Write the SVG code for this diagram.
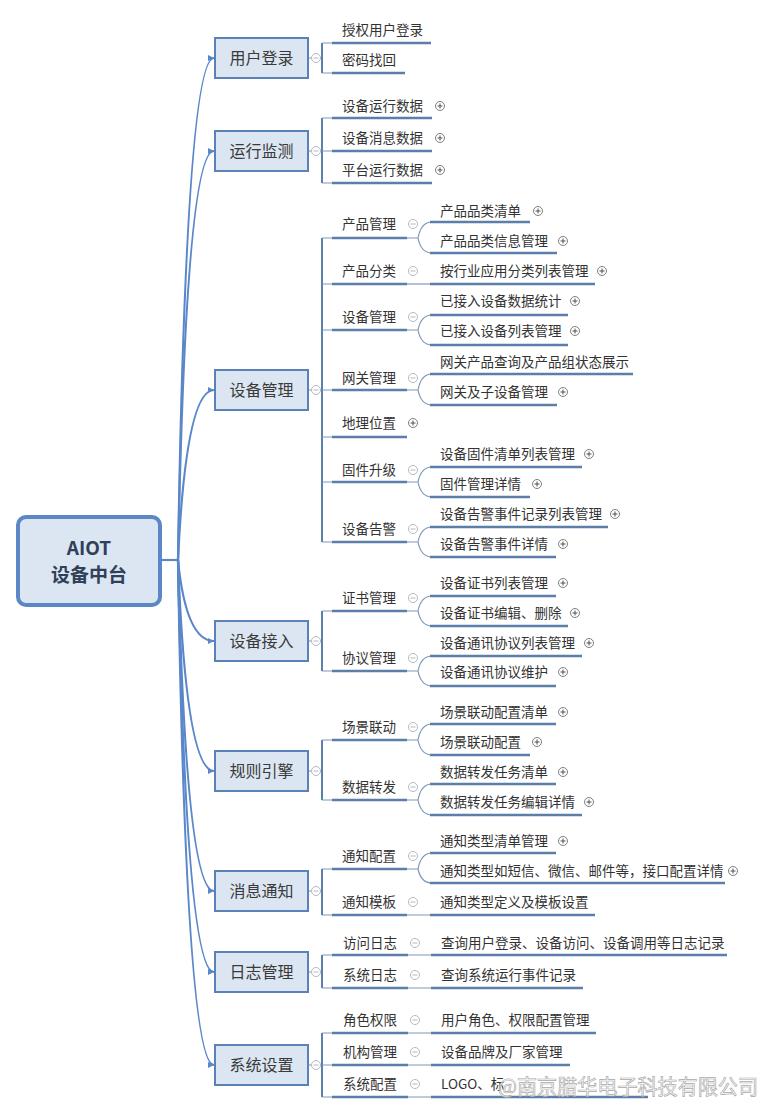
<svg xmlns="http://www.w3.org/2000/svg" xmlns:xlink="http://www.w3.org/1999/xlink" width="773" height="1114" viewBox="0 0 773 1114">
<style>
text{font-family:"Noto Sans CJK SC","Microsoft YaHei",sans-serif;fill:#333}
.root{fill:#dce6f2;stroke:#5b87c6;stroke-width:4}
.rt{font-size:19px;font-weight:bold;fill:#2f4058;text-anchor:middle}
.l1{fill:#dce6f2;stroke:#5a82b8;stroke-width:2}
.t1{font-size:16px;text-anchor:middle;fill:#3a3a3a}
.t2{font-size:13.5px}
.ul{fill:none;stroke:#5b7fa9;stroke-width:2.6}
.cv{fill:none;stroke:#5a87c9;stroke-width:2.2}
.br{fill:none;stroke:#5b7fa9;stroke-width:2}
.th{fill:none;stroke:#7f98b8;stroke-width:1.2}
.wm{font-size:21px;fill:#fff;fill-opacity:0.7;stroke:#a8a8a8;stroke-width:0.7}
</style>
<defs>
<marker id="ah" markerUnits="userSpaceOnUse" markerWidth="7" markerHeight="7" refX="6" refY="3" orient="auto"><path d="M0,0L6,3L0,6z" fill="#5a87c9"/></marker>
<g id="mi"><circle r="4.5" fill="#fff" stroke="#b3bac4" stroke-width="1"/><path d="M-2.5,0H2.5" stroke="#b3bac4" stroke-width="1"/></g>
<g id="pl"><circle r="4.5" fill="#fff" stroke="#707070" stroke-width="0.9"/><path d="M-2.5,0H2.5M0,-2.5V2.5" stroke="#505050" stroke-width="1"/></g>
</defs>
<rect width="773" height="1114" fill="#fff"/>

<g id="connectors">
<path class="cv" d="M160,560H178"/>
<path class="cv" marker-end="url(#ah)" d="M178,560Q186,58 214,58"/>
<path class="cv" marker-end="url(#ah)" d="M178,560Q186,151 214,151"/>
<path class="cv" marker-end="url(#ah)" d="M178,560Q186,390 214,390"/>
<path class="cv" marker-end="url(#ah)" d="M178,560Q186,641 214,641"/>
<path class="cv" marker-end="url(#ah)" d="M178,560Q186,771 214,771"/>
<path class="cv" marker-end="url(#ah)" d="M178,560Q186,891 214,891"/>
<path class="cv" marker-end="url(#ah)" d="M178,560Q186,972 214,972"/>
<path class="cv" marker-end="url(#ah)" d="M178,560Q186,1065 214,1065"/>
<path class="th" d="M308,58H322M308,151H322M308,390H322M308,641H322M308,771H322M308,891H322M308,972H322M308,1065H322"/>
<path class="br" d="M322,43V73M322,118V183M322,238V542M322,611V671M322,740V800M322,869V915M322,955V988M322,1033V1097"/>
<path class="th" d="M322,43H332M322,73H332M322,118H332M322,151H332M322,183H332M322,238H332M322,284H332M322,330H332M322,390H332M322,437H332M322,482H332M322,542H332M322,611H332M322,671H332M322,740H332M322,800H332M322,869H332M322,915H332M322,955H332M322,988H332M322,1033H332M322,1065H332M322,1097H332"/>
<path class="th" d="M407,238H418Q421,222 432,222M418,238Q421,253 432,253"/>
<path class="th" d="M407,284H432"/>
<path class="th" d="M407,330H418Q421,315 432,315M418,330Q421,345 432,345"/>
<path class="th" d="M407,390H418Q421,374 432,374M418,390Q421,405 432,405"/>
<path class="th" d="M407,482H418Q421,467 432,467M418,482Q421,497 432,497"/>
<path class="th" d="M407,542H418Q421,527 432,527M418,542Q421,557 432,557"/>
<path class="th" d="M407,611H418Q421,596 432,596M418,611Q421,626 432,626"/>
<path class="th" d="M407,671H418Q421,656 432,656M418,671Q421,686 432,686"/>
<path class="th" d="M407,740H418Q421,724 432,724M418,740Q421,755 432,755"/>
<path class="th" d="M407,800H418Q421,784 432,784M418,800Q421,815 432,815"/>
<path class="th" d="M407,869H418Q421,853 432,853M418,869Q421,883 432,883"/>
<path class="th" d="M407,915H432M408,955H432M408,988H432M408,1033H432M408,1065H432M408,1097H432"/>
</g>

<g id="root"><rect class="root" x="18" y="517" width="142" height="88" rx="8"/><text class="rt" x="89" y="555">AIOT</text><text class="rt" x="89" y="582">设备中台</text></g>

<g id="n1"><rect class="l1" x="215" y="38" width="93" height="40"/><text class="t1" x="261.5" y="64">用户登录</text><use href="#mi" x="316" y="58"/></g>
<g id="n2"><rect class="l1" x="215" y="131" width="93" height="40"/><text class="t1" x="261.5" y="157">运行监测</text><use href="#mi" x="316" y="151"/></g>
<g id="n3"><rect class="l1" x="215" y="370" width="93" height="40"/><text class="t1" x="261.5" y="396">设备管理</text><use href="#mi" x="316" y="390"/></g>
<g id="n4"><rect class="l1" x="215" y="621" width="93" height="40"/><text class="t1" x="261.5" y="647">设备接入</text><use href="#mi" x="316" y="641"/></g>
<g id="n5"><rect class="l1" x="215" y="751" width="93" height="40"/><text class="t1" x="261.5" y="777">规则引擎</text><use href="#mi" x="316" y="771"/></g>
<g id="n6"><rect class="l1" x="215" y="871" width="93" height="40"/><text class="t1" x="261.5" y="897">消息通知</text><use href="#mi" x="316" y="891"/></g>
<g id="n7"><rect class="l1" x="215" y="952" width="93" height="40"/><text class="t1" x="261.5" y="978">日志管理</text><use href="#mi" x="316" y="972"/></g>
<g id="n8"><rect class="l1" x="215" y="1045" width="93" height="40"/><text class="t1" x="261.5" y="1071">系统设置</text><use href="#mi" x="316" y="1065"/></g>

<g id="n1-1"><text class="t2" x="342" y="35">授权用户登录</text><path class="ul" d="M332,43H431"/></g>
<g id="n1-2"><text class="t2" x="342" y="65">密码找回</text><path class="ul" d="M332,73H405"/></g>

<g id="n2-1"><text class="t2" x="342" y="111">设备运行数据</text><path class="ul" d="M332,118H432"/><use href="#pl" x="440" y="106"/></g>
<g id="n2-2"><text class="t2" x="342" y="143">设备消息数据</text><path class="ul" d="M332,151H432"/><use href="#pl" x="440" y="138"/></g>
<g id="n2-3"><text class="t2" x="342" y="175">平台运行数据</text><path class="ul" d="M332,183H432"/><use href="#pl" x="440" y="170"/></g>

<g id="n3-1"><text class="t2" x="342" y="229">产品管理</text><path class="ul" d="M332,238H407"/><use href="#mi" x="413" y="224"/></g>
<g id="n3-1-1"><text class="t2" x="440" y="216">产品品类清单</text><path class="ul" d="M430,222H530"/><use href="#pl" x="538" y="211"/></g>
<g id="n3-1-2"><text class="t2" x="440" y="246">产品品类信息管理</text><path class="ul" d="M430,253H557"/><use href="#pl" x="563" y="241"/></g>
<g id="n3-2"><text class="t2" x="342" y="276">产品分类</text><path class="ul" d="M332,284H407"/><use href="#mi" x="413" y="271"/></g>
<g id="n3-2-1"><text class="t2" x="440" y="276">按行业应用分类列表管理</text><path class="ul" d="M430,284H595"/><use href="#pl" x="602" y="271"/></g>
<g id="n3-3"><text class="t2" x="342" y="322">设备管理</text><path class="ul" d="M332,330H407"/><use href="#mi" x="413" y="317"/></g>
<g id="n3-3-1"><text class="t2" x="440" y="306">已接入设备数据统计</text><path class="ul" d="M430,315H568"/><use href="#pl" x="575" y="301"/></g>
<g id="n3-3-2"><text class="t2" x="440" y="336">已接入设备列表管理</text><path class="ul" d="M430,345H568"/><use href="#pl" x="575" y="331"/></g>
<g id="n3-4"><text class="t2" x="342" y="383">网关管理</text><path class="ul" d="M332,390H407"/><use href="#mi" x="413" y="378"/></g>
<g id="n3-4-1"><text class="t2" x="440" y="367">网关产品查询及产品组状态展示</text><path class="ul" d="M430,374H633"/></g>
<g id="n3-4-2"><text class="t2" x="440" y="397">网关及子设备管理</text><path class="ul" d="M430,405H557"/><use href="#pl" x="563" y="392"/></g>
<g id="n3-5"><text class="t2" x="342" y="428">地理位置</text><path class="ul" d="M332,437H407"/><use href="#pl" x="413" y="423"/></g>
<g id="n3-6"><text class="t2" x="342" y="475">固件升级</text><path class="ul" d="M332,482H407"/><use href="#mi" x="413" y="470"/></g>
<g id="n3-6-1"><text class="t2" x="440" y="459">设备固件清单列表管理</text><path class="ul" d="M430,467H582"/><use href="#pl" x="589" y="454"/></g>
<g id="n3-6-2"><text class="t2" x="440" y="489">固件管理详情</text><path class="ul" d="M430,497H530"/><use href="#pl" x="537" y="484"/></g>
<g id="n3-7"><text class="t2" x="342" y="534">设备告警</text><path class="ul" d="M332,542H407"/><use href="#mi" x="413" y="529"/></g>
<g id="n3-7-1"><text class="t2" x="440" y="519">设备告警事件记录列表管理</text><path class="ul" d="M430,527H608"/><use href="#pl" x="615" y="514"/></g>
<g id="n3-7-2"><text class="t2" x="440" y="549">设备告警事件详情</text><path class="ul" d="M430,557H556"/><use href="#pl" x="563" y="544"/></g>

<g id="n4-1"><text class="t2" x="342" y="603">证书管理</text><path class="ul" d="M332,611H407"/><use href="#mi" x="413" y="598"/></g>
<g id="n4-1-1"><text class="t2" x="440" y="588">设备证书列表管理</text><path class="ul" d="M430,596H556"/><use href="#pl" x="563" y="583"/></g>
<g id="n4-1-2"><text class="t2" x="440" y="618">设备证书编辑、删除</text><path class="ul" d="M430,626H568"/><use href="#pl" x="575" y="613"/></g>
<g id="n4-2"><text class="t2" x="342" y="663">协议管理</text><path class="ul" d="M332,671H407"/><use href="#mi" x="413" y="658"/></g>
<g id="n4-2-1"><text class="t2" x="440" y="648">设备通讯协议列表管理</text><path class="ul" d="M430,656H582"/><use href="#pl" x="589" y="643"/></g>
<g id="n4-2-2"><text class="t2" x="440" y="677">设备通讯协议维护</text><path class="ul" d="M430,686H556"/><use href="#pl" x="563" y="672"/></g>

<g id="n5-1"><text class="t2" x="342" y="732">场景联动</text><path class="ul" d="M332,740H407"/><use href="#mi" x="413" y="727"/></g>
<g id="n5-1-1"><text class="t2" x="440" y="717">场景联动配置清单</text><path class="ul" d="M430,724H556"/><use href="#pl" x="563" y="712"/></g>
<g id="n5-1-2"><text class="t2" x="440" y="747">场景联动配置</text><path class="ul" d="M430,755H530"/><use href="#pl" x="537" y="742"/></g>
<g id="n5-2"><text class="t2" x="342" y="792">数据转发</text><path class="ul" d="M332,800H407"/><use href="#mi" x="413" y="787"/></g>
<g id="n5-2-1"><text class="t2" x="440" y="777">数据转发任务清单</text><path class="ul" d="M430,784H556"/><use href="#pl" x="563" y="772"/></g>
<g id="n5-2-2"><text class="t2" x="440" y="807">数据转发任务编辑详情</text><path class="ul" d="M430,815H582"/><use href="#pl" x="589" y="802"/></g>

<g id="n6-1"><text class="t2" x="342" y="861">通知配置</text><path class="ul" d="M332,869H407"/><use href="#mi" x="413" y="856"/></g>
<g id="n6-1-1"><text class="t2" x="440" y="846">通知类型清单管理</text><path class="ul" d="M430,853H556"/><use href="#pl" x="563" y="841"/></g>
<g id="n6-1-2"><text class="t2" x="440" y="876">通知类型如短信、微信、邮件等，接口配置详情</text><path class="ul" d="M430,883H725"/><use href="#pl" x="733" y="871"/></g>
<g id="n6-2"><text class="t2" x="342" y="907">通知模板</text><path class="ul" d="M332,915H407"/><use href="#mi" x="413" y="902"/></g>
<g id="n6-2-1"><text class="t2" x="440" y="907">通知类型定义及模板设置</text><path class="ul" d="M430,915H595"/></g>

<g id="n7-1"><text class="t2" x="343" y="948">访问日志</text><path class="ul" d="M332,955H408"/><use href="#mi" x="415" y="943"/></g>
<g id="n7-1-1"><text class="t2" x="441" y="948">查询用户登录、设备访问、设备调用等日志记录</text><path class="ul" d="M431,955H727"/></g>
<g id="n7-2"><text class="t2" x="343" y="980">系统日志</text><path class="ul" d="M332,988H408"/><use href="#mi" x="415" y="975"/></g>
<g id="n7-2-1"><text class="t2" x="441" y="980">查询系统运行事件记录</text><path class="ul" d="M431,988H583"/></g>

<g id="n8-1"><text class="t2" x="343" y="1025">角色权限</text><path class="ul" d="M332,1033H408"/><use href="#mi" x="415" y="1020"/></g>
<g id="n8-1-1"><text class="t2" x="441" y="1025">用户角色、权限配置管理</text><path class="ul" d="M431,1033H596"/></g>
<g id="n8-2"><text class="t2" x="343" y="1057">机构管理</text><path class="ul" d="M332,1065H408"/><use href="#mi" x="415" y="1052"/></g>
<g id="n8-2-1"><text class="t2" x="441" y="1057">设备品牌及厂家管理</text><path class="ul" d="M431,1065H570"/></g>
<g id="n8-3"><text class="t2" x="343" y="1089">系统配置</text><path class="ul" d="M332,1097H408"/><use href="#mi" x="415" y="1084"/></g>
<g id="n8-3-1"><text class="t2" x="441" y="1089">LOGO、标</text><path class="ul" d="M431,1097H648"/></g>

<g id="watermark"><text class="wm" x="498" y="1094" textLength="260" lengthAdjust="spacingAndGlyphs">@南京腊华电子科技有限公司</text></g>
</svg>
